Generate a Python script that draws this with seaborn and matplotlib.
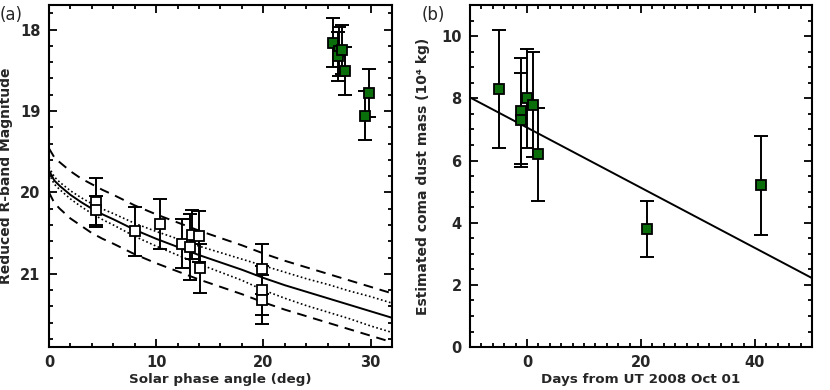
import numpy as np
import pandas as pd
import matplotlib
matplotlib.use('Agg')
import matplotlib.pyplot as plt
from matplotlib.ticker import MultipleLocator
import seaborn as sns

# ---- panel (a): reduced magnitude vs phase angle ----
phase_open = [4.4, 4.4, 8.0, 10.35, 12.4, 13.2, 13.3, 14.0, 14.1, 19.9, 19.9, 19.9]
mag_open = [20.12, 20.22, 20.48, 20.39, 20.63, 20.67, 20.52, 20.54, 20.93, 20.94, 21.20, 21.32]
err_open = [0.30, 0.18, 0.30, 0.31, 0.30, 0.40, 0.30, 0.31, 0.30, 0.31, 0.30, 0.30]

phase_green = [26.45, 27.1, 27.0, 27.3, 27.6, 29.5, 29.9]
mag_green = [18.16, 18.27, 18.33, 18.25, 18.51, 19.06, 18.78]
err_green = [0.30, 0.30, 0.30, 0.30, 0.30, 0.30, 0.30]

# fitted phase curves
fit_phase = [0, 0.5, 1, 2, 3, 4, 5, 6, 8, 10, 12, 14, 16, 18, 20, 22, 24, 26, 28, 30, 32]
fit_mag = [19.73, 19.855, 19.92, 20.03, 20.12, 20.20, 20.27, 20.33, 20.46, 20.57, 20.67,
           20.77, 20.86, 20.95, 21.05, 21.14, 21.22, 21.30, 21.38, 21.46, 21.54]
dot_hi = [19.69, 19.81, 19.875, 19.98, 20.065, 20.14, 20.205, 20.26, 20.38, 20.48, 20.57,
          20.66, 20.74, 20.82, 20.90, 20.98, 21.06, 21.13, 21.21, 21.28, 21.36]
dot_lo = [19.77, 19.90, 19.965, 20.08, 20.175, 20.26, 20.335, 20.40, 20.54, 20.66, 20.77,
          20.88, 20.98, 21.08, 21.20, 21.30, 21.39, 21.47, 21.55, 21.64, 21.72]
dash_hi = [19.46, 19.57, 19.63, 19.74, 19.83, 19.90, 19.97, 20.03, 20.16, 20.27, 20.37,
           20.47, 20.56, 20.65, 20.75, 20.84, 20.92, 21.00, 21.08, 21.16, 21.24]
dash_lo = [20.00, 20.13, 20.20, 20.32, 20.41, 20.50, 20.57, 20.63, 20.76, 20.87, 20.97,
           21.07, 21.16, 21.25, 21.35, 21.44, 21.52, 21.60, 21.68, 21.76, 21.84]

# ---- panel (b): dust mass vs time ----
days = [-5, -1, -1, 0, 1, 2, 21, 41]
mass = [8.3, 7.6, 7.3, 8.0, 7.8, 6.2, 3.8, 5.2]
mass_err = [1.9, 1.7, 1.5, 1.6, 1.7, 1.5, 0.9, 1.6]
fit_b_intercept = 7.06
fit_b_slope = -0.0968

sns.set_style('ticks')
plt.rcParams['font.family'] = ['DejaVu Sans']
plt.rcParams['font.weight'] = 'bold'
plt.rcParams['axes.labelweight'] = 'bold'

green = '#0a6e0a'

fig = plt.figure(figsize=(8.3, 3.9), dpi=100)
ax1 = fig.add_axes([0.059, 0.110, 0.4133, 0.877])
ax2 = fig.add_axes([0.5663, 0.110, 0.4120, 0.877])

# panel (a) curves
curves = pd.DataFrame({'phase': fit_phase, 'fit': fit_mag, 'dot_hi': dot_hi,
                       'dot_lo': dot_lo, 'dash_hi': dash_hi, 'dash_lo': dash_lo})
sns.lineplot(data=curves, x='phase', y='fit', ax=ax1, color='black', lw=1.4)
for col in ['dot_hi', 'dot_lo']:
    sns.lineplot(data=curves, x='phase', y=col, ax=ax1, color='black', lw=1.2,
                 linestyle=(0, (1, 1.5)))
for col in ['dash_hi', 'dash_lo']:
    sns.lineplot(data=curves, x='phase', y=col, ax=ax1, color='black', lw=1.4,
                 linestyle=(0, (5, 3.5)))

ebk = dict(fmt='none', ecolor='black', elinewidth=1.4, capsize=5, capthick=1.4, zorder=3)
ax1.errorbar(phase_open, mag_open, yerr=err_open, **ebk)
ax1.errorbar(phase_green, mag_green, yerr=err_green, **ebk)
ax1.plot(phase_open, mag_open, 's', ms=6.5, mfc='white', mec='black', mew=1.3, zorder=4)
ax1.plot(phase_green, mag_green, 's', ms=6.5, mfc=green, mec='black', mew=1.3, zorder=4)

ax1.set_xlim(0, 32)
ax1.set_ylim(21.9, 17.7)
ax1.xaxis.set_major_locator(MultipleLocator(10))
ax1.xaxis.set_minor_locator(MultipleLocator(2))
ax1.yaxis.set_major_locator(MultipleLocator(1))
ax1.yaxis.set_minor_locator(MultipleLocator(0.2))
ax1.set_xlabel('Solar phase angle (deg)', fontsize=9.7, labelpad=2)
ax1.set_ylabel('Reduced R-band Magnitude', fontsize=10, labelpad=5)

# panel (b)
fit_x = np.array([-10, 50])
fit_df = pd.DataFrame({'days': fit_x, 'mass': fit_b_intercept + fit_b_slope * fit_x})
sns.lineplot(data=fit_df, x='days', y='mass', ax=ax2, color='black', lw=1.4)
ax2.errorbar(days, mass, yerr=mass_err, **ebk)
ax2.plot(days, mass, 's', ms=6.5, mfc=green, mec='black', mew=1.3, zorder=4)

ax2.set_xlim(-10, 50)
ax2.set_ylim(0, 11)
ax2.xaxis.set_major_locator(MultipleLocator(20))
ax2.xaxis.set_minor_locator(MultipleLocator(2))
ax2.yaxis.set_major_locator(MultipleLocator(2))
ax2.yaxis.set_minor_locator(MultipleLocator(0.5))
ax2.set_xlabel('Days from UT 2008 Oct 01', fontsize=9.7, labelpad=2)
ax2.set_ylabel('Estimated coma dust mass (10\u2074 kg)', fontsize=10, labelpad=8)

for ax in (ax1, ax2):
    for sp in ax.spines.values():
        sp.set_linewidth(1.5)
        sp.set_color('black')
    ax.tick_params(which='both', direction='in', top=True, right=True, color='black',
                   width=1.3, labelsize=10.5)
    ax.tick_params(which='major', length=6, pad=6)
    ax.tick_params(which='minor', length=3)
    for lab in ax.get_xticklabels() + ax.get_yticklabels():
        lab.set_fontweight('bold')

fig.text(0.0, 0.985, '(a)', fontsize=12, fontweight='normal', va='top', ha='left')
fig.text(0.508, 0.985, '(b)', fontsize=12, fontweight='normal', va='top', ha='left')

fig.savefig('out.png', dpi=100)
